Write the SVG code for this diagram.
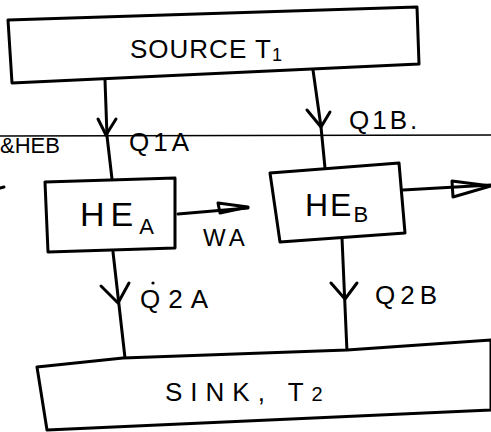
<svg xmlns="http://www.w3.org/2000/svg" width="491" height="432" viewBox="0 0 491 432">
<style>
.box{fill:#fff;stroke:#000;stroke-width:3;stroke-linejoin:round}
.ln{fill:none;stroke:#000;stroke-width:3;stroke-linecap:round;stroke-linejoin:round}
.thin{fill:none;stroke:#000;stroke-width:1.3}
.t{font-family:"Liberation Sans",Arial,sans-serif;fill:#000}
</style>
<rect width="491" height="432" fill="#fff"/>
<line class="thin" x1="0" y1="136" x2="491" y2="135"/>
<g id="connectors">
<polyline class="ln" points="105,80 107,136 112,179"/>
<polyline class="ln" points="98,119 106,135 116,119"/>
<polyline class="ln" points="313,70 321,127 325,168"/>
<polyline class="ln" points="307,110 321,127 330,112"/>
<polyline class="ln" points="178,214 248,208"/>
<polygon class="ln" points="218,203 248,207 220,213"/>
<polyline class="ln" points="403,190 491,185"/>
<polygon class="ln" points="452,181 491,186 453,197"/>
<polyline class="ln" points="113,252 125,358"/>
<polyline class="ln" points="101,286 118,303 129,283"/>
<polyline class="ln" points="342,238 347,352"/>
<polyline class="ln" points="331,283 345,299 357,283"/>
<line class="ln" x1="0" y1="188" x2="4" y2="187"/>
</g>
<g id="source">
<polygon class="box" points="8,20 417,7 419,64 12,83"/>
<text class="t" x="130" y="58" font-size="26" letter-spacing="1">SOURCE T<tspan font-size="18" dy="3">1</tspan></text>
</g>
<g id="heA">
<polygon class="box" points="45,182 175,178 175,248 48,252"/>
<text class="t" x="80" y="226" font-size="34" letter-spacing="6">HE<tspan font-size="22" dy="8">A</tspan></text>
</g>
<g id="heB">
<polygon class="box" points="270,173 399,163 405,233 280,242"/>
<text class="t" x="305" y="216" font-size="32" letter-spacing="2">HE<tspan font-size="22" dy="6">B</tspan></text>
</g>
<g id="sink">
<path class="box" d="M37,367 L123,358 L347,350 L491,340 L491,410 L47,430 Z"/>
<text class="t" x="165" y="401" font-size="26" letter-spacing="8">SINK, T<tspan font-size="20" letter-spacing="0">2</tspan></text>
</g>
<g id="labels">
<text class="t" x="129" y="151" font-size="26" letter-spacing="4">Q1A</text>
<text class="t" x="0" y="153" font-size="22">&amp;HEB</text>
<text class="t" x="349" y="129" font-size="26" letter-spacing="3">Q1B.</text>
<text class="t" x="203" y="246" font-size="24" letter-spacing="4">WA</text>
<text class="t" x="140" y="308" font-size="26" letter-spacing="8">Q2A</text>
<circle cx="153" cy="283" r="1.6" fill="#000"/>
<text class="t" x="375" y="304" font-size="26" letter-spacing="5">Q2B</text>
</g>
</svg>
